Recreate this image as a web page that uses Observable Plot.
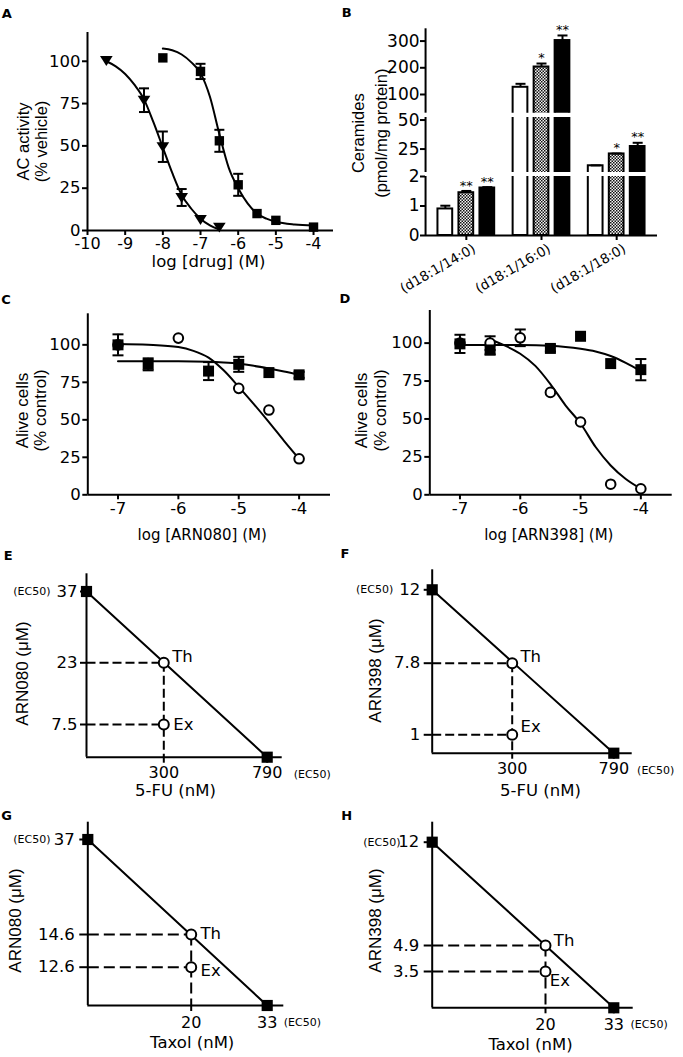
<!DOCTYPE html>
<html>
<head>
<meta charset="utf-8">
<script src="https://cdn.jsdelivr.net/npm/d3@7"></script>
<script src="https://cdn.jsdelivr.net/npm/@observablehq/plot@0.6"></script>
<style>
html,body{margin:0;padding:0;background:#fff;}
#fig{position:relative;width:683px;height:1057px;overflow:hidden;background:#fff;}
.plet{position:absolute;font-family:"DejaVu Sans",sans-serif;font-weight:bold;font-size:13px;line-height:13px;transform:translate(-50%,-50%);}
</style>
</head>
<body>
<div id="fig"></div>
<script>
// ================= DATA =================
// Panel A : AC activity (% vehicle) vs log [drug] (M)
const aXTicks = [-10, -9, -8, -7, -6, -5, -4];
const aYTicks = [0, 25, 50, 75, 100];
const aTriX = [-9.5, -8.5, -8, -7.5, -7, -6.5];
const aTriY = [100.5, 77, 49.5, 19.5, 6.5, 2];
const aTriErr = [0, 7, 9, 5, 0, 0];
const aSqX = [-8, -7, -6.5, -6, -5.5, -5, -4];
const aSqY = [102, 94, 53, 27, 10, 6, 2];
const aSqErr = [0, 4.5, 6.5, 6.5, 0, 0, 0];
const aTriFitX = [-9.5, -9.25, -9, -8.75, -8.5, -8.25, -8, -7.75, -7.5, -7.25, -7, -6.75, -6.5];
const aTriFitY = [100, 97, 92.5, 86, 77.5, 64, 49, 34, 21, 13, 7, 3, 0.5];
const aSqFitX = [-8, -7.75, -7.5, -7.25, -7, -6.75, -6.5, -6.25, -6, -5.75, -5.5, -5.25, -5, -4.5, -4];
const aSqFitY = [107.5, 106.5, 104, 99.5, 93, 79, 57, 37, 25, 16, 10, 7, 5.2, 3.6, 3];

// Panel B : ceramides (pmol/mg protein), broken axis
const bGroups = ["(d18:1/14:0)", "(d18:1/16:0)", "(d18:1/18:0)"];
const bVehicle = [0.9, 127, 10.6];
const bVehicleErr = [0.11, 13, 0.3];
const bArn080 = [1.45, 203, 20.8];
const bArn080Err = [0.06, 13, 0.3];
const bArn398 = [1.61, 302, 27.2];
const bArn398Err = [0.03, 19, 3.2];
const bVehicleStars = ["", "", ""];
const bArn080Stars = ["**", "*", "*"];
const bArn398Stars = ["**", "**", "**"];
const bSegments = [[0, 2], [4.8, 52.2], [30, 346]];
const bTicks = [[0, 1, 2], [25, 50], [100, 200, 300]];

// Panels C, D : alive cells (% control)
const cdXTicks = [-7, -6, -5, -4];
const cdYTicks = [0, 25, 50, 75, 100];
const cSqX = [-7, -6.5, -5.5, -5, -4.5, -4];
const cSqY = [100, 87, 82.5, 87, 81.5, 80];
const cSqErr = [7, 4, 6, 5, 0, 2];
const cCircX = [-7, -6, -5, -4.5, -4];
const cCircY = [100, 104.5, 71, 56.5, 24];
const cSqFitX = [-7, -6.5, -6, -5.5, -5.25, -5, -4.75, -4.5, -4.25, -4];
const cSqFitY = [89, 89, 89, 88.7, 88.2, 87.4, 86, 84.2, 82.2, 80];
const cCircFitX = [-7, -6.5, -6, -5.75, -5.5, -5.25, -5, -4.75, -4.5, -4.25, -4];
const cCircFitY = [100.5, 100, 98.5, 96, 91.5, 83, 72, 60.5, 48.5, 36, 24];

const dSqX = [-7, -6.5, -5.5, -5, -4.5, -4];
const dSqY = [99.5, 95.5, 96.5, 104.5, 86.5, 82.5];
const dSqErr = [6, 3, 2, 0, 0, 7];
const dCircX = [-7, -6.5, -6, -5.5, -5, -4.5, -4];
const dCircY = [100, 100, 103.5, 67.5, 48, 7, 4];
const dCircErr = [0, 4.5, 5.5, 0, 0, 0, 0];
const dSqFitX = [-7, -6, -5.5, -5.25, -5, -4.75, -4.5, -4.25, -4];
const dSqFitY = [98.8, 98.7, 98.2, 97.5, 96.3, 94.5, 91.5, 87, 81.5];
const dCircFitX = [-6.5, -6.25, -6, -5.75, -5.5, -5.25, -5, -4.75, -4.5, -4.25, -4];
const dCircFitY = [102.4, 98.3, 93, 85, 73, 59, 47, 31.5, 19.3, 10.4, 4];

// Panels E-H : isobolograms
const isoDrug = ["ARN080", "ARN398", "ARN080", "ARN398"];
const isoCoDrug = ["5-FU", "5-FU", "Taxol", "Taxol"];
const isoDrugEC50 = [37, 12, 37, 12];
const isoCoEC50 = [790, 790, 33, 33];
const isoCoDose = [300, 300, 20, 20];
const isoTh = [23, 7.8, 14.6, 4.9];
const isoEx = [7.5, 1, 12.6, 3.5];

const panelLetters = ["A", "B", "C", "D", "E", "F", "G", "H"];

// ================= LAYOUT / STYLE =================
const FONT = '"DejaVu Sans", sans-serif';
const VFONT = '"Liberation Sans", Arial, sans-serif';
const fig = document.getElementById("fig");
const fmt = d => String(d);

const letterPos = [[6.7,12.7],[346.7,11.7],[6,299],[345,298.3],[8.3,555],[345,553.3],[6.7,815],[346.7,815]];

const triDown = {draw(ctx, size){const r=Math.sqrt(size/Math.PI); ctx.moveTo(-1.15*r,-0.8*r); ctx.lineTo(1.15*r,-0.8*r); ctx.lineTo(0,r); ctx.closePath();}};
const capLine = {draw(ctx, size){const r=Math.sqrt(size/Math.PI); ctx.moveTo(-r,0); ctx.lineTo(r,0);}};

function mount(svg, box){
  svg.style.position="absolute";
  svg.style.left=box.left+"px";
  svg.style.top=box.top+"px";
  svg.style.background="transparent";
  svg.style.overflow="visible";
  svg.style.maxWidth="none";
  svg.style.fontFamily=FONT;
  fig.appendChild(svg);
  return svg;
}
function label(str, ax, ay, box, opts){
  return Plot.text([str], {text: d=>d, frameAnchor:"top-left", textAnchor:"middle", lineAnchor:"middle",
    dx: ax - box.left - box.ml, dy: ay - box.top - box.mt, fontFamily: FONT, ...opts});
}
function rows(xs, ys, es){ return xs.map((x,i)=>({x, y: ys[i], e: es ? es[i] : 0})); }
function errMarks(data, capR){
  const e = data.filter(d=>d.e>0);
  return [
    Plot.ruleX(e, {x:"x", y1:d=>d.y-d.e, y2:d=>d.y+d.e, stroke:"black", strokeWidth:2}),
    Plot.dot(e, {x:"x", y:d=>d.y+d.e, symbol:capLine, r:capR, stroke:"black", strokeWidth:2, fill:"none"}),
    Plot.dot(e, {x:"x", y:d=>d.y-d.e, symbol:capLine, r:capR, stroke:"black", strokeWidth:2, fill:"none"})
  ];
}

// ================= PANEL A =================
{
  const box = {left:0, top:0, width:340, height:275, ml:87, mr:7, mt:32, mb:45};
  const tri = rows(aTriX, aTriY, aTriErr);
  const sq = rows(aSqX, aSqY, aSqErr);
  const svg = Plot.plot({
    width: box.width, height: box.height,
    marginLeft: box.ml, marginRight: box.mr, marginTop: box.mt, marginBottom: box.mb,
    x: {domain: [-10, -3.47], label: null},
    y: {domain: [0, 117], label: null},
    marks: [
      Plot.line(rows(aTriFitX, aTriFitY), {x:"x", y:"y", curve:"monotone-x", strokeWidth:2}),
      Plot.line(rows(aSqFitX, aSqFitY), {x:"x", y:"y", curve:"monotone-x", strokeWidth:2}),
      errMarks(tri, 5), errMarks(sq, 5),
      Plot.dot(tri, {x:"x", y:"y", symbol:triDown, r:5.5, fill:"black", stroke:"none"}),
      Plot.dot(sq, {x:"x", y:"y", symbol:"square", r:5.3, fill:"black", stroke:"none"}),
      Plot.ruleX([-10], {strokeWidth:2}),
      Plot.ruleY([0], {strokeWidth:2}),
      Plot.axisY({ticks:aYTicks, tickSize:5, tickPadding:2, strokeWidth:2, fontSize:16.5, tickFormat:fmt, label:null}),
      Plot.axisX({ticks:aXTicks, tickSize:5, tickPadding:2.5, strokeWidth:2, fontSize:16, tickFormat:fmt, label:null}),
      label("log [drug] (M)", 208, 261, box, {fontSize:16.5}),
      label("AC activity", 23, 141, box, {rotate:-90, fontSize:16.5, fontFamily:VFONT}),
      label("(% vehicle)", 41, 141, box, {rotate:-90, fontSize:16.5, fontFamily:VFONT})
    ]
  });
  mount(svg, box);
}

// ================= PANEL B =================
{
  const bSegPx = [[176, 235], [117, 172], [28.3, 112.7]];
  const bFill = ["white", "url(#chk)", "black"];
  const bDx = [-21, 0, 21];
  const vals = [bVehicle, bArn080, bArn398];
  const errs = [bVehicleErr, bArn080Err, bArn398Err];
  const stars = [bVehicleStars, bArn080Stars, bArn398Stars];
  const segOf = v => bSegments.findIndex(([lo, hi]) => v >= lo && v <= hi);
  const data = [];
  for (let k = 0; k < 3; k++) bGroups.forEach((g, i) => data.push({g, k, v: vals[k][i], e: errs[k][i], s: stars[k][i]}));
  for (let s = 0; s < 3; s++) {
    const [tPx, bPx] = bSegPx[s];
    const dom = bSegments[s];
    const H = s === 0 ? 300 : bPx;
    const box = {left:340, top:0, width:343, height:H, ml:85, mr:26, mt:tPx, mb:H - bPx};
    const marks = [];
    for (let k = 0; k < 3; k++) {
      const r = data.filter(d => d.k === k);
      const rb = r.filter(d => d.v > dom[0]);
      marks.push(Plot.barY(rb, {x:"g", y1:()=>0, y2:"v", dx:bDx[k], insetLeft:22.7, insetRight:22.7, fill:bFill[k], stroke:"black", strokeWidth:2, clip:true}));
      const re = r.filter(d => d.e > 0 && segOf(d.v + d.e) === s);
      marks.push(Plot.ruleX(re, {x:"g", y1:"v", y2:d=>d.v+d.e, dx:bDx[k], stroke:"black", strokeWidth:2}));
      marks.push(Plot.dot(re, {x:"g", y:d=>d.v+d.e, dx:bDx[k], symbol:capLine, r:5, stroke:"black", strokeWidth:2, fill:"none"}));
      const rs = r.filter(d => d.s && segOf(d.v + d.e) === s);
      marks.push(Plot.text(rs, {x:"g", y:d=>d.v+d.e, text:"s", dx:bDx[k], dy:-5.5, fontSize:13, fill:"black"}));
    }
    marks.push(Plot.ruleX([bGroups[0]], {x:d=>d, dx:-40.77, strokeWidth:2}));
    marks.push(Plot.axisY({ticks:bTicks[s], tickSize:5, tickPadding:1, strokeWidth:2, fontSize:17, tickFormat:fmt, label:null}));
    if (s === 0) {
      marks.push(Plot.ruleY([0], {strokeWidth:2}));
      marks.push(Plot.axisX({tickSize:5, strokeWidth:2, tickFormat:()=>"", label:null}));
      marks.push(Plot.text(bGroups, {x:d=>d, text:d=>d, frameAnchor:"bottom", rotate:-30, textAnchor:"end", lineAnchor:"middle", dx:8, dy:12, fontSize:13.5}));
      marks.push(label("Ceramides", 358.3, 132.7, box, {rotate:-90, fontSize:16.5, fontFamily:VFONT}));
      marks.push(label("(pmol/mg protein)", 381.7, 132.7, box, {rotate:-90, fontSize:16.5, fontFamily:VFONT}));
    }
    const svg = Plot.plot({
      width: box.width, height: box.height,
      marginLeft: box.ml, marginRight: box.mr, marginTop: box.mt, marginBottom: box.mb,
      x: {type:"band", domain:bGroups, paddingInner:0.2, paddingOuter:0.143, round:false, axis:null, label:null},
      y: {domain:dom, axis:null, label:null},
      marks
    });
    const ns = "http://www.w3.org/2000/svg";
    const defs = document.createElementNS(ns, "defs");
    defs.innerHTML = '<pattern id="chk" width="3" height="3" patternUnits="userSpaceOnUse"><rect width="3" height="3" fill="#f4f4f4"/><rect width="1.5" height="1.5" fill="#111"/><rect x="1.5" y="1.5" width="1.5" height="1.5" fill="#111"/></pattern>';
    svg.insertBefore(defs, svg.firstChild);
    mount(svg, box);
  }
}

// ================= PANELS C, D =================
function cellPanel(box, yTop, sq, circ, sqFit, circFit, xTitle, xTitlePos, yTitleX, yTitleY) {
  const svg = Plot.plot({
    width: box.width, height: box.height,
    marginLeft: box.ml, marginRight: box.mr, marginTop: box.mt, marginBottom: box.mb,
    x: {domain: [-7.5, -3.48], label: null},
    y: {domain: [0, yTop], label: null},
    marks: [
      Plot.line(sqFit, {x:"x", y:"y", curve:"monotone-x", strokeWidth:2}),
      Plot.line(circFit, {x:"x", y:"y", curve:"monotone-x", strokeWidth:2}),
      errMarks(sq, 5.5), errMarks(circ, 5.5),
      Plot.dot(circ, {x:"x", y:"y", r:4.8, fill:"white", stroke:"black", strokeWidth:2}),
      Plot.dot(sq, {x:"x", y:"y", symbol:"square", r:6.2, fill:"black", stroke:"none"}),
      Plot.ruleX([-7.5], {strokeWidth:2}),
      Plot.ruleY([0], {strokeWidth:2}),
      Plot.axisY({ticks:cdYTicks, tickSize:5, tickPadding:2, strokeWidth:2, fontSize:16.5, tickFormat:fmt, label:null}),
      Plot.axisX({ticks:cdXTicks, tickSize:5, tickPadding:2, strokeWidth:2, fontSize:16.5, tickFormat:fmt, label:null}),
      label(xTitle, xTitlePos[0], xTitlePos[1], box, {fontSize:15}),
      label("Alive cells", yTitleX[0], yTitleY, box, {rotate:-90, fontSize:17, fontFamily:VFONT}),
      label("(% control)", yTitleX[1], yTitleY, box, {rotate:-90, fontSize:17, fontFamily:VFONT})
    ]
  });
  mount(svg, box);
}
cellPanel({left:0, top:285, width:340, height:260, ml:87.3, mr:10, mt:28.3, mb:50.7}, 120.7,
  rows(cSqX, cSqY, cSqErr), rows(cCircX, cCircY), rows(cSqFitX, cSqFitY), rows(cCircFitX, cCircFitY),
  "log [ARN080] (M)", [201.7, 535], [21.7, 40], 410);
cellPanel({left:340, top:285, width:343, height:260, ml:89.3, mr:11.3, mt:25, mb:50.7}, 121.5,
  rows(dSqX, dSqY, dSqErr), rows(dCircX, dCircY, dCircErr), rows(dSqFitX, dSqFitY), rows(dCircFitX, dCircFitY),
  "log [ARN398] (M)", [548.3, 535], [360.7, 380], 410);

// ================= PANELS E-H =================
const isoBox = [
  {left:0,   top:545, width:340, height:250, xr:[86,163.3,266.7,281.7], xMax:861,   yr:[211.7,179,117.3,46,28.3], yMax:40.5,
   ySize:6, yPad:3, xPad:3, thOff:[8.4,-5.6], exOff:[9.4,0], ecY:-36, ecX:26.5, xTitle:[175,790], yTitle:[21.7,673], dash:"9,4"},
  {left:340, top:545, width:343, height:250, xr:[91.7,171.7,273.3,291.7], xMax:879, yr:[207.7,189.3,117.7,44.3,24.3], yMax:13.14,
   ySize:8, yPad:4, xPad:3, thOff:[8.3,-6], exOff:[8.3,-7.6], ecY:-39, ecX:23.3, xTitle:[540,790], yTitle:[375,670], dash:"9,4"},
  {left:0,   top:795, width:340, height:262, xr:[87.3,190.7,266.7,283.3], xMax:35.84, yr:[210,171.7,139,44,26.7], yMax:41.08,
   ySize:8, yPad:5, xPad:5, thOff:[9.3,-0.7], exOff:[9.3,3.3], ecY:-37.3, ecX:16.6, xTitle:[191.7,1042.5], yTitle:[15,920], dash:"11,5"},
  {left:340, top:795, width:343, height:262, xr:[91.7,205,273.3,292.7], xMax:36.7, yr:[212.3,176,150,46.7,26.7], yMax:13.37,
   ySize:8, yPad:5, xPad:5, thOff:[8.3,-5], exOff:[4.3,9.7], ecY:-31.7, ecX:16.7, xTitle:[530,1044], yTitle:[375,920], dash:"11,5"}
];
for (let p = 0; p < 4; p++) {
  const L = isoBox[p];
  const box = {left:L.left, top:L.top, width:L.width, height:L.height, ml:L.xr[0], mr:L.width - L.xr[3], mt:L.yr[4], mb:L.height - L.yr[0]};
  const dose = isoCoDose[p], ecC = isoCoEC50[p], ecD = isoDrugEC50[p], th = isoTh[p], ex = isoEx[p];
  const svg = Plot.plot({
    width: box.width, height: box.height,
    marginLeft: box.ml, marginRight: box.mr, marginTop: box.mt, marginBottom: box.mb,
    x: {type:"linear", domain:[0, dose, ecC, L.xMax], range:L.xr, label:null},
    y: {type:"linear", domain:[0, ex, th, ecD, L.yMax], range:L.yr, label:null},
    marks: [
      Plot.link([{x1:0,y1:th,x2:dose,y2:th},{x1:0,y1:ex,x2:dose,y2:ex},{x1:dose,y1:th,x2:dose,y2:0}],
        {x1:"x1", y1:"y1", x2:"x2", y2:"y2", stroke:"black", strokeWidth:2, strokeDasharray:L.dash}),
      Plot.line([{x:0,y:ecD},{x:ecC,y:0}], {x:"x", y:"y", strokeWidth:2}),
      Plot.ruleX([0], {strokeWidth:2}),
      Plot.ruleY([0], {strokeWidth:2}),
      Plot.axisY({ticks:[ex, th, ecD], tickFormat:fmt, tickSize:L.ySize, tickPadding:L.yPad, strokeWidth:2, fontSize:16.5, label:null}),
      Plot.axisX({ticks:[dose, ecC], tickFormat:fmt, tickSize:6, tickPadding:L.xPad, strokeWidth:2, fontSize:16, label:null}),
      Plot.dot([{x:0,y:ecD},{x:ecC,y:0}], {x:"x", y:"y", symbol:"square", r:6.3, fill:"black", stroke:"none"}),
      Plot.dot([{x:dose,y:th},{x:dose,y:ex}], {x:"x", y:"y", r:5, fill:"white", stroke:"black", strokeWidth:2}),
      Plot.text([{x:dose,y:th}], {x:"x", y:"y", text:()=>"Th", textAnchor:"start", dx:L.thOff[0], dy:L.thOff[1], fontSize:16.5}),
      Plot.text([{x:dose,y:ex}], {x:"x", y:"y", text:()=>"Ex", textAnchor:"start", dx:L.exOff[0], dy:L.exOff[1], fontSize:16.5}),
      Plot.text([{x:0,y:ecD}], {x:"x", y:"y", text:()=>"(EC50)", textAnchor:"end", dx:L.ecY, fontSize:11}),
      Plot.text([{x:ecC,y:0}], {x:"x", y:"y", text:()=>"(EC50)", textAnchor:"start", dx:L.ecX, dy:17, fontSize:11}),
      label(isoCoDrug[p] + " (nM)", L.xTitle[0], L.xTitle[1], box, {fontSize:16.5}),
      label(isoDrug[p] + " (\u03bcM)", L.yTitle[0], L.yTitle[1], box, {rotate:-90, fontSize:17, fontFamily:VFONT})
    ]
  });
  mount(svg, box);
}

// ================= PANEL LETTERS =================
panelLetters.forEach((t, i) => {
  const d = document.createElement("div");
  d.className = "plet";
  d.textContent = t;
  d.style.left = letterPos[i][0] + "px";
  d.style.top = letterPos[i][1] + "px";
  fig.appendChild(d);
});
</script>
</body>
</html>
